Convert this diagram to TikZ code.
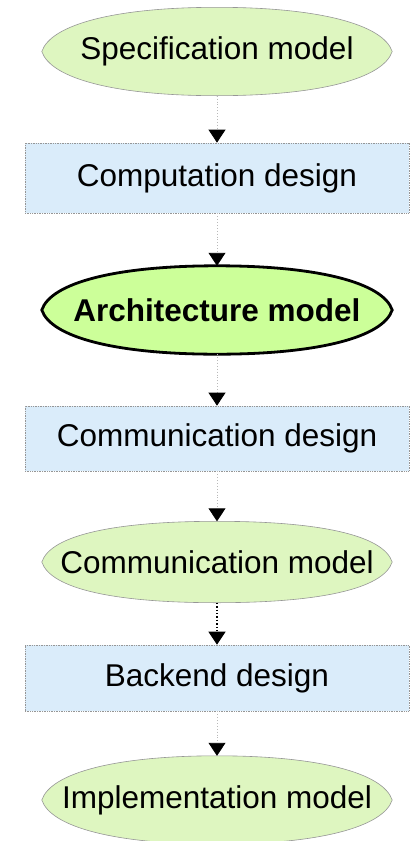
\documentclass[tikz,border=0pt]{standalone}
\usepackage{fontspec}
\setmainfont{Liberation Sans}
\usetikzlibrary{arrows.meta,backgrounds}

\definecolor{modelfill}{RGB}{222,246,192}
\definecolor{archfill}{RGB}{204,255,153}
\definecolor{designfill}{RGB}{218,236,250}
\definecolor{edgegray}{RGB}{150,150,150}
\definecolor{linkgray}{RGB}{185,185,185}

\tikzset{
  label text/.style={font=\fontsize{31.5}{36}\selectfont, inner sep=0pt, text=black},
  modelnode/.style={label text, rectangle, minimum width=350pt, minimum height=88pt},
  archnode/.style={label text, font=\fontsize{31.5}{36}\selectfont\bfseries,
                   rectangle, minimum width=350pt, minimum height=88pt},
  designnode/.style={label text, rectangle, minimum width=384pt,
                     fill=designfill, draw=edgegray, densely dotted, line width=0.7pt},
  modeloutline/.style={fill=modelfill, draw=edgegray, line width=0.6pt},
  archoutline/.style={fill=archfill, draw=black, line width=2.8pt},
  link/.style={draw=linkgray, dotted, line width=0.9pt,
               -{Triangle[width=17pt,length=13pt,fill=black,color=black]}},
  darklink/.style={draw=black, dotted, line width=1.4pt,
                   -{Triangle[width=17pt,length=13pt,fill=black,color=black]}}
}

\begin{document}
\begin{tikzpicture}[x=1pt,y=1pt]
  \useasboundingbox (0,0) rectangle (410,-841);

  % flow stages
  \node[modelnode]  (spec) at (217,-51.5) {Specification model};
  \node[designnode, minimum height=70pt] (comp) at (217,-178) {Computation design};
  \node[archnode]   (arch) at (217,-310) {Architecture model};
  \node[designnode, minimum height=65pt] (cdes) at (217,-438.5) {Communication design};
  \node[modelnode, minimum height=81pt] (cmod) at (217,-562) {Communication model};
  \node[designnode, minimum height=66pt] (back) at (217,-678) {Backend design};
  \node[modelnode]  (impl) at (217,-800) {Implementation model};

  % slightly pointed oval outlines behind the model labels
  \begin{scope}[on background layer]
    \foreach \n/\s in {spec/modeloutline, arch/archoutline, cmod/modeloutline, impl/modeloutline}{
      \path[\s] (\n.west) .. controls +(9,27) and +(-102,0) .. (\n.north)
                .. controls +(102,0) and +(-9,27) .. (\n.east)
                .. controls +(-9,-27) and +(102,0) .. (\n.south)
                .. controls +(-102,0) and +(9,-27) .. (\n.west) -- cycle;
    }
  \end{scope}

  % connectors
  \draw[link]     (spec.south) -- (comp.north);
  \draw[link]     (comp.south) -- (arch.north);
  \draw[link]     (arch.south) -- (cdes.north);
  \draw[link]     (cdes.south) -- (cmod.north);
  \draw[darklink] (cmod.south) -- (back.north);
  \draw[link]     (back.south) -- (impl.north);
\end{tikzpicture}
\end{document}
